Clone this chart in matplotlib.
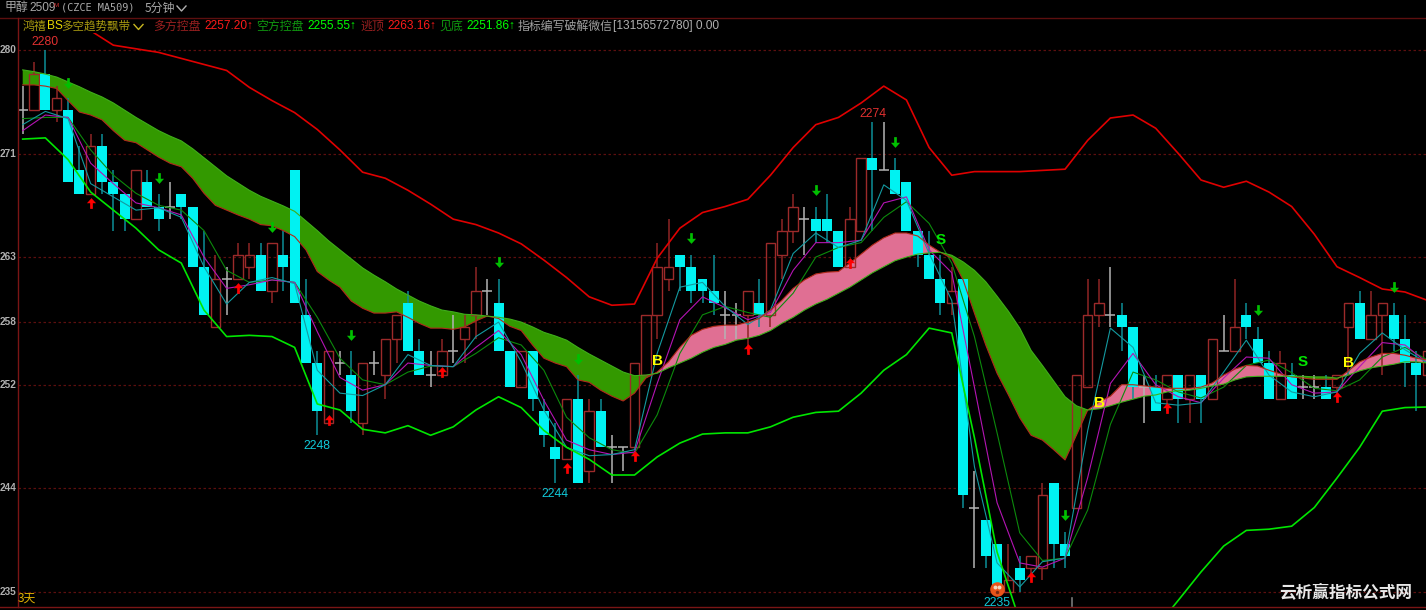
#!/usr/bin/env python3
import matplotlib
matplotlib.use('Agg')

import matplotlib.pyplot as plt
import numpy as np
from matplotlib.path import Path
from matplotlib.patches import Rectangle

W, H = 1426, 610
CJK = ['Noto Sans CJK SC', 'DejaVu Sans']
NUM = ['Liberation Sans', 'DejaVu Sans']

## candles, one value per bar
OPENS = [2275,2275,2278,2275,2275,2270,2268,2272,2269,2268,
         2266,2269,2267,2267,2268,2267,2262,2257,2261,2261,
         2262,2263,2260,2263,2270,2258,2254,2249,2254,2253,
         2249,2254,2253,2256,2259,2255,2253,2253,2255,2256,
         2258,2260,2259,2255,2252,2255,2250,2247,2246,2251,
         2245,2250,2247,2247,2247,2253,2258,2261,2263,2262,
         2261,2260,2258,2258,2258,2259,2258,2263,2265,2266,
         2266,2266,2265,2262,2265,2271,2270,2270,2269,2265,
         2263,2261,2259,2261,2242,2241,2239,2235,2237,2237,
         2237,2244,2239,2242,2252,2258,2258,2258,2257,2252,
         2252,2251,2253,2251,2253,2251,2255,2255,2258,2256,
         2254,2251,2253,2252,2252,2252,2252,2257,2259,2256,
         2258,2258,2256,2254,2253]
CLOSES = [2275,2278,2275,2276,2269,2268,2272,2269,2268,2266,
          2270,2267,2266,2267,2267,2262,2258,2261,2261,2263,
          2263,2260,2264,2262,2259,2254,2250,2255,2254,2250,
          2254,2254,2256,2258,2255,2253,2253,2255,2255,2257,
          2260,2260,2255,2252,2255,2251,2248,2246,2251,2244,
          2250,2247,2247,2247,2254,2258,2262,2262,2262,2260,
          2260,2259,2258,2258,2260,2258,2264,2265,2267,2266,
          2265,2265,2262,2266,2271,2270,2270,2268,2265,2263,
          2261,2259,2260,2243,2242,2238,2235,2236,2236,2238,
          2243,2239,2238,2253,2258,2259,2258,2257,2252,2252,
          2250,2253,2251,2253,2251,2256,2255,2257,2257,2254,
          2251,2254,2251,2252,2252,2251,2253,2259,2256,2258,
          2259,2256,2254,2253,2255]
HIGHS = [2277,2279,2280,2277,2276,2272,2273,2273,2270,2268,
         2270,2270,2268,2269,2268,2267,2265,2263,2262,2264,
         2264,2264,2264,2265,2270,2261,2255,2255,2255,2255,
         2254,2255,2256,2258,2260,2256,2255,2256,2258,2258,
         2262,2261,2261,2255,2255,2255,2251,2249,2251,2253,
         2251,2251,2248,2247,2254,2258,2264,2266,2263,2263,
         2261,2263,2260,2259,2260,2261,2264,2266,2268,2267,
         2267,2268,2265,2267,2271,2274,2274,2271,2269,2265,
         2265,2263,2262,2261,2245,2241,2239,2239,2238,2238,
         2244,2244,2240,2253,2261,2261,2262,2259,2257,2253,
         2253,2253,2253,2253,2253,2256,2258,2261,2259,2257,
         2255,2255,2254,2253,2253,2253,2253,2259,2260,2260,
         2259,2259,2258,2255,2255]
LOWS = [2273,2275,2275,2274,2269,2268,2268,2268,2265,2265,
        2266,2267,2265,2266,2266,2262,2258,2257,2258,2261,
        2261,2260,2259,2260,2259,2254,2248,2249,2253,2249,
        2248,2253,2251,2254,2255,2253,2252,2253,2254,2254,
        2256,2258,2255,2252,2252,2250,2247,2244,2246,2244,
        2244,2247,2244,2245,2247,2253,2256,2260,2260,2259,
        2259,2258,2256,2256,2255,2257,2257,2261,2264,2263,
        2264,2264,2262,2262,2265,2265,2270,2268,2265,2262,
        2261,2258,2258,2242,2237,2237,2235,2235,2235,2236,
        2236,2237,2237,2242,2252,2257,2257,2255,2251,2249,
        2250,2250,2249,2249,2249,2251,2255,2255,2256,2254,
        2251,2251,2251,2251,2251,2251,2251,2253,2256,2256,
        2253,2255,2252,2250,2253]

## ribbon edges, read at every bar
RIBBON_A = [2277.1,2277.1,2277.0,2276.8,2275.8,2274.85,2274.6,2274.2,2273.3,2272.5,
            2272.3,2271.7,2271.1,2270.6,2270.3,2269.35,2268.1,2267.1,2266.7,2266.3,
            2265.95,2265.5,2265.4,2265.0,2264.5,2263.4,2261.6,2260.9,2260.3,2259.15,
            2258.55,2258.15,2258.15,2258.25,2257.8,2257.3,2256.9,2256.9,2256.8,2257.0,
            2257.5,2257.9,2257.7,2257.05,2256.7,2255.5,2254.4,2254.0,2253.7,2252.6,
            2252.4,2251.75,2251.25,2250.85,2251.5,2252.75,2253.25,2254.1,2255.3,2256.3,
            2256.8,2257.05,2257.15,2257.15,2257.4,2257.7,2258.4,2259.2,2260.2,2260.9,
            2261.4,2261.55,2261.6,2262.3,2263.05,2263.8,2264.4,2264.8,2264.8,2264.55,
            2263.8,2263.2,2262.7,2260.9,2258.15,2255.5,2253.15,2251.35,2249.45,2248.0,
            2247.6,2246.8,2245.95,2248.0,2250.1,2250.75,2251.25,2252.2,2252.2,2252.1,
            2252.0,2251.9,2251.9,2251.9,2252.0,2252.35,2253.0,2253.5,2253.8,2253.75,
            2253.4,2253.1,2252.85,2252.75,2252.65,2252.65,2252.65,2253.35,2254.1,2254.5,
            2254.8,2254.8,2254.65,2254.4,2254.25]
RIBBON_B = [2278.35,2278.2,2278.0,2277.75,2277.35,2276.95,2276.5,2276.1,2275.6,2275.0,
            2274.4,2273.85,2273.3,2272.85,2272.45,2271.8,2271.05,2270.3,2269.55,2268.95,
            2268.35,2267.85,2267.45,2267.05,2266.6,2265.8,2265.0,2264.15,2263.4,2262.65,
            2261.9,2261.3,2260.75,2260.15,2259.65,2259.15,2258.75,2258.4,2258.25,2258.05,
            2258.0,2257.9,2257.8,2257.65,2257.4,2257.0,2256.55,2256.25,2255.9,2255.3,
            2254.75,2254.25,2253.75,2253.25,2252.95,2253.0,2253.15,2253.6,2254.0,2254.4,
            2254.9,2255.3,2255.55,2255.9,2256.05,2256.3,2256.7,2257.3,2257.8,2258.4,
            2258.9,2259.3,2259.8,2260.3,2260.9,2261.5,2262.0,2262.5,2262.8,2263.05,
            2263.15,2263.2,2262.95,2262.4,2261.7,2260.75,2259.55,2258.3,2256.9,2255.05,
            2253.8,2252.5,2251.2,2250.45,2250.1,2250.2,2250.45,2250.75,2251.0,2251.25,
            2251.35,2251.6,2251.7,2251.75,2251.9,2252.1,2252.25,2252.6,2252.85,2252.9,
            2252.9,2252.9,2252.9,2252.9,2252.85,2252.85,2252.75,2253.0,2253.35,2253.6,
            2253.75,2253.9,2254.1,2254.1,2254.0]

## other indicator lines, read at every second bar
LINE_BARS = list(range(0, 125, 2))
UPPER = [2283.3,2282.8,2282.2,2281.6,2280.4,2280.1,2279.8,2279.3,2278.8,2278.3,
         2276.9,2275.8,2274.8,2273.4,2271.7,2269.85,2269.35,2268.35,2267.2,2265.95,
         2265.5,2264.8,2263.9,2262.55,2261.1,2259.5,2258.8,2258.9,2262.7,2265.2,
         2266.5,2267.0,2267.6,2269.6,2271.9,2273.8,2274.4,2275.6,2277.0,2275.85,
         2271.9,2269.6,2269.9,2269.9,2269.9,2270.0,2270.1,2272.5,2274.35,2274.6,
         2273.5,2271.4,2269.2,2268.6,2269.1,2268.2,2267.0,2264.7,2262.0,2261.1,
         2260.15,2259.9,2259.2]
LOWER = [2272.6,2272.7,2270.9,2268.2,2266.7,2265.2,2263.4,2262.3,2258.4,2256.2,
         2256.3,2256.2,2255.3,2250.6,2250.1,2248.5,2248.2,2248.8,2248.0,2248.7,
         2250.1,2251.2,2250.3,2248.4,2247.0,2246.0,2244.7,2244.7,2246.2,2247.35,
         2248.1,2248.2,2248.2,2248.7,2249.5,2249.9,2250.0,2251.5,2253.4,2254.7,
         2256.9,2256.5,2247.8,2238.3,2232.6,2231.0,2230.2,2229.7,2229.7,2230.2,
         2232.0,2234.3,2236.65,2238.8,2240.1,2240.2,2240.45,2242.0,2244.45,2247.0,
         2250.0,2250.3,2250.35]
MA_FAST = [2273.8,2274.9,2274.3,2268.9,2267.8,2266.7,2266.9,2266.1,2262.0,2258.9,
           2260.7,2261.1,2260.6,2253.4,2251.5,2251.3,2252.2,2254.7,2253.8,2253.7,
           2256.2,2257.4,2254.1,2250.1,2247.0,2246.3,2246.4,2246.8,2254.8,2260.3,
           2260.7,2258.7,2257.2,2258.4,2263.1,2264.8,2263.6,2264.2,2268.8,2267.5,
           2263.1,2259.2,2245.4,2237.4,2235.4,2237.5,2237.8,2248.4,2256.9,2255.3,
           2250.7,2250.5,2250.7,2253.25,2255.9,2253.0,2251.6,2251.2,2251.6,2254.8,
           2256.5,2255.1,2254.0]
MA_MID = [2273.3,2274.6,2274.4,2270.6,2268.9,2267.3,2266.9,2266.3,2262.8,2260.2,
          2260.5,2260.9,2260.7,2256.6,2252.8,2251.75,2252.2,2254.0,2253.8,2253.7,
          2255.3,2256.7,2254.7,2250.9,2247.6,2246.8,2246.4,2246.6,2252.3,2257.6,
          2259.5,2258.6,2257.6,2258.2,2261.7,2264.0,2264.0,2264.2,2267.3,2267.8,
          2263.4,2261.5,2252.0,2242.4,2237.4,2237.05,2237.8,2244.5,2252.3,2254.8,
          2252.2,2251.2,2250.7,2252.75,2254.5,2254.4,2252.2,2251.5,2251.6,2253.7,
          2255.7,2255.5,2254.0]
MA_SLOW = [2274.3,2274.4,2274.4,2271.7,2269.6,2268.1,2267.1,2266.7,2265.0,2261.7,
           2260.7,2260.9,2260.7,2257.8,2254.4,2252.6,2252.2,2253.25,2253.75,2253.7,
           2254.8,2256.1,2255.5,2253.4,2249.5,2247.8,2246.8,2246.5,2249.7,2254.8,
           2258.0,2258.7,2258.2,2257.8,2259.8,2262.8,2263.6,2264.0,2266.1,2267.4,
           2265.6,2262.3,2256.2,2248.2,2239.9,2237.6,2237.8,2241.8,2248.9,2253.25,
           2252.6,2251.6,2251.1,2252.0,2253.8,2254.25,2253.2,2251.9,2251.7,2252.6,
           2254.5,2255.3,2254.25]

## signals
DOWN_BARS = [4, 12, 22, 29, 42, 49, 59, 70, 77, 92, 109, 121]
DOWN_PRICES = [2277.3,2269.4,2265.3,2256.3,2262.4,2254.3,2264.4,2268.4,2272.4,2241.4,2258.4,2260.3]
UP_BARS = [6, 19, 27, 37, 48, 54, 64, 73, 89, 101, 116]
UP_PRICES = [2267.3,2260.2,2249.3,2253.25,2245.3,2246.3,2255.2,2262.3,2236.2,2250.3,2251.2]
BUY_BARS = [56, 95, 117]
BUY_PRICES = [2254.2, 2250.7, 2254.0]
SELL_BARS = [81, 113]
SELL_PRICES = [2264.2, 2254.1]

GRID_PRICES = [2280, 2271.4, 2262.8, 2257.4, 2252.2, 2243.6, 2235]
GRID_LABELS = ['280', '271', '263', '258', '252', '244', '235']

HIGH_BARS = [2, 75]
HIGH_LABELS = ['2280', '2274']
LOW_BARS = [26, 47, 86]
LOW_LABELS = ['2248', '2244', '2235']


def px(x, y):
    # figure fraction from pixel position
    return x / W, 1 - y / H


def header_text(fig, x, y, s, color, family=CJK, size=8.6, **kw):
    fx, fy = px(x, y)
    fig.text(fx, fy, s, color=color, family=family, fontsize=size, va='center', ha='left', zorder=20, **kw)


def chevron(fig, x, y, color):
    xs = [x, x + 4.5, x + 9]
    ys = [y - 2.5, y + 2.5, y - 2.5]
    fig.add_artist(plt.Line2D([v / W for v in xs], [1 - v / H for v in ys], color=color, lw=1.0))


fig = plt.figure(figsize=(W / 100, H / 100), dpi=100, facecolor='black')
ax = fig.add_axes([0, 0, 1, 1], facecolor='black')
ax.set_xlim((0 - 22.7) / 11.33, (W - 22.7) / 11.33)
ax.set_ylim(2280 - (H - 50) / 12.04, 2280 + 50 / 12.04)
ax.axis('off')

# grid
left_frac = 18 / W
for p in GRID_PRICES:
    ax.plot([left_frac, 1], [p, p], transform=ax.get_yaxis_transform(), color='#5c0f0f',
            lw=0.9, ls=(0, (2, 2)), zorder=1)

# ribbon
ribbon_bars = np.arange(len(RIBBON_A))
a = np.array(RIBBON_A)
b = np.array(RIBBON_B)
ax.fill_between(ribbon_bars, a, b, where=a >= b, interpolate=True, color='#e06f93', lw=0, zorder=2)
ax.fill_between(ribbon_bars, a, b, where=a <= b, interpolate=True, color='#339900', lw=0, zorder=2)

# candles
idx = np.arange(len(OPENS))
opens = np.array(OPENS)
closes = np.array(CLOSES)
highs = np.array(HIGHS)
lows = np.array(LOWS)
up = closes > opens
down = closes < opens
flat = closes == opens
body_top = np.maximum(opens, closes)
body_bottom = np.minimum(opens, closes)

for mask, col in [(up, '#8f2525'), (down, '#0c8f98')]:
    ax.vlines(idx[mask], body_top[mask], highs[mask], color=col, lw=1.1, zorder=3)
    ax.vlines(idx[mask], lows[mask], body_bottom[mask], color=col, lw=1.1, zorder=3)
ax.bar(idx[up], (body_top - body_bottom)[up], bottom=body_bottom[up], width=0.84, fill=False,
       edgecolor='#9c2a2a', lw=1.0, zorder=3)
ax.bar(idx[down], (body_top - body_bottom)[down], bottom=body_bottom[down], width=0.88,
       color='#00f2f2', lw=0, zorder=3)
ax.vlines(idx[flat], lows[flat], highs[flat], color='#b4b4b4', lw=1.1, zorder=3)
ax.hlines(closes[flat], idx[flat] - 0.44, idx[flat] + 0.44, color='#b4b4b4', lw=1.1, zorder=3)

# lines
bars = np.array(LINE_BARS)
ax.plot(bars, MA_SLOW, color='#0c8a0c', lw=0.8, zorder=4)
ax.plot(bars, MA_MID, color='#b414b4', lw=0.8, zorder=4)
ax.plot(bars, MA_FAST, color='#149aa0', lw=0.8, zorder=4)
ax.plot(ribbon_bars, RIBBON_A, color='#b02a1a', lw=0.8, zorder=4)
ax.plot(ribbon_bars, RIBBON_B, color='#3fae1a', lw=0.8, zorder=4)
ax.plot(bars, UPPER, color='#e00000', lw=1.2, zorder=4)
ax.plot(bars, LOWER, color='#00e600', lw=1.2, zorder=4)

# arrows
ARROW_UP = Path([(0, 1), (0.85, 0.05), (0.25, 0.05), (0.25, -1), (-0.25, -1), (-0.25, 0.05), (-0.85, 0.05), (0, 1)])
ARROW_DOWN = Path([(0, -1), (0.85, -0.05), (0.25, -0.05), (0.25, 1), (-0.25, 1), (-0.25, -0.05), (-0.85, -0.05), (0, -1)])
ax.scatter(DOWN_BARS, DOWN_PRICES, marker=ARROW_DOWN, s=60, color='#00c000', lw=0, zorder=6)
ax.scatter(UP_BARS, UP_PRICES, marker=ARROW_UP, s=60, color='#ff0000', lw=0, zorder=6)

# B / S
for i, p in zip(BUY_BARS, BUY_PRICES):
    ax.text(i, p, 'B', color='#ffff00', family=NUM, fontsize=11, fontweight='bold', ha='center', va='center', zorder=7)
for i, p in zip(SELL_BARS, SELL_PRICES):
    ax.text(i, p, 'S', color='#00e600', family=NUM, fontsize=11, fontweight='bold', ha='center', va='center', zorder=7)

# high / low marks
for i, s in zip(HIGH_BARS, HIGH_LABELS):
    ax.text(i, highs[i] + 0.15, s, color='#e03030', family=NUM, fontsize=8.8, ha='center', va='bottom', zorder=7)
for i, s in zip(LOW_BARS, LOW_LABELS):
    ax.text(i, lows[i] - 0.4, s, color='#10c8d8', family=NUM, fontsize=8.8, ha='center', va='top', zorder=7)

# the small face at the low
ax.scatter([86], [2235.25], s=110, color='#e8541a', lw=0, zorder=6)
ax.scatter([85.8, 86.2], [2235.4, 2235.4], s=8, color='#f2d8c0', lw=0, zorder=7)
ax.scatter([86], [2235.0], s=6, color='#7a2a10', lw=0, zorder=7)

# header block and frame
ax.add_patch(Rectangle((0, 1 - 33 / H), 1, 33 / H, transform=ax.transAxes, color='black', lw=0, zorder=10))
ax.add_patch(Rectangle((0, 0), 18 / W, 1, transform=ax.transAxes, color='black', lw=0, zorder=10))
ax.add_patch(Rectangle((0, 0), 1, 3 / H, transform=ax.transAxes, color='black', lw=0, zorder=10))
fig.add_artist(plt.Line2D([0, 1], [1 - 17.5 / H] * 2, color='#5c0f0f', lw=1.0))
fig.add_artist(plt.Line2D([0, 1], [1 - 607 / H] * 2, color='#7a1515', lw=1.0))
fig.add_artist(plt.Line2D([17.5 / W] * 2, [1 - 18 / H, 1 - 607 / H], color='#7a1515', lw=1.0))
fig.add_artist(plt.Line2D([1071.5 / W] * 2, [1 - 598 / H, 1 - 606 / H], color='#777777', lw=1.2))

# price labels, narrow enough to fit left of the axis
for p, s in zip(GRID_PRICES, GRID_LABELS):
    y = 50 + (2280 - p) * 12.04
    fx, fy = px(16.5, y)
    fig.text(fx, fy, s, color='#b0b0b0', family=NUM, fontsize=7.2, fontweight='bold', ha='right', va='center', zorder=20)

# top row
header_text(fig, 5, 8, '甲醇', '#a8a8a8')
header_text(fig, 29, 8, '2509', '#a8a8a8', family=NUM)
header_text(fig, 53, 5.5, 'M', '#d03030', family=NUM, size=4.5)
header_text(fig, 61, 8, '(CZCE MA509)', '#a8a8a8', family=['DejaVu Sans Mono'], size=7.4)
header_text(fig, 145, 8, '5分钟', '#a8a8a8')
chevron(fig, 177, 8.5, '#b0b0b0')

# indicator row
header_text(fig, 23, 26, '鸿禧', '#a89a10')
header_text(fig, 47, 26, 'BS', '#e8d800', family=NUM)
header_text(fig, 61, 26, '多空趋势飘带', '#a89a10', size=8.3)
chevron(fig, 134, 27, '#c8b820')
header_text(fig, 153, 26, '多方控盘', '#9a2020')
header_text(fig, 204, 26, '2257.20↑', '#ff1a1a', family=NUM)
header_text(fig, 256, 26, '空方控盘', '#109a10')
header_text(fig, 307, 26, '2255.55↑', '#00ff00', family=NUM)
header_text(fig, 360, 26, '逃顶', '#9a2020')
header_text(fig, 387, 26, '2263.16↑', '#ff1a1a', family=NUM)
header_text(fig, 439, 26, '见底', '#109a10')
header_text(fig, 466, 26, '2251.86↑', '#00ff00', family=NUM)
header_text(fig, 518, 26, '指标编写破解微信', '#a0a0a0')
header_text(fig, 613, 26, '[13156572780] 0.00', '#b0b0b0', family=NUM)

# corner text
header_text(fig, 18, 598, '3天', '#e0b000', size=8.6)
header_text(fig, 1279, 592, '云析赢指标公式网', '#e8e8e8', size=12, fontweight='bold')

fig.savefig('out.png', dpi=100, facecolor='black')
